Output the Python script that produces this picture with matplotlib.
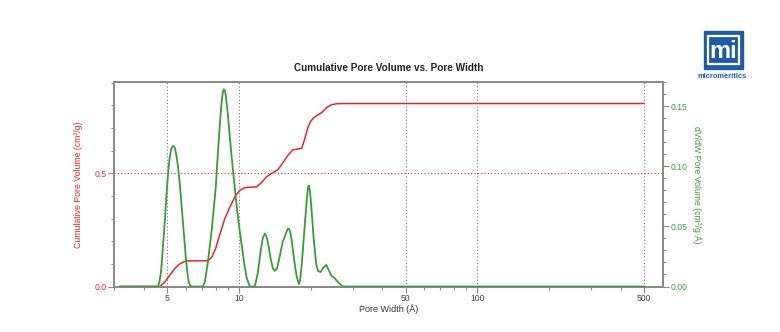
import numpy as np
import matplotlib.pyplot as plt
from matplotlib.patches import Rectangle
from matplotlib.ticker import FixedLocator, NullFormatter, MultipleLocator, FormatStrFormatter

plt.rcParams['font.family'] = ['Liberation Sans', 'DejaVu Sans']

# cumulative pore volume (cm3/g) vs pore width (A)
cum_width = [3.18, 4.67, 4.90, 5.14, 5.40, 5.66, 6.00, 7.42, 7.71, 8.01, 8.33, 8.74,
             9.17, 9.62, 10.0, 10.49, 10.91, 11.89, 12.48, 13.10, 13.74, 14.56, 15.28,
             16.03, 16.82, 17.66, 18.35, 18.89, 19.45, 20.01, 20.60, 21.41, 22.25,
             23.34, 24.49, 25.70, 27.24, 500.0]
cum_vol = [0.0, 0.0, 0.02, 0.05, 0.08, 0.10, 0.113, 0.114, 0.13, 0.17, 0.23, 0.30,
           0.35, 0.395, 0.42, 0.435, 0.438, 0.44, 0.46, 0.485, 0.50, 0.515, 0.545,
           0.578, 0.603, 0.607, 0.61, 0.65, 0.70, 0.73, 0.745, 0.757, 0.768,
           0.79, 0.803, 0.807, 0.808, 0.808]

# dV/dW distribution (cm3/g.A)
dv_width = [3.18, 4.58, 4.65, 4.72, 4.86, 5.00, 5.07, 5.14, 5.22, 5.31, 5.40, 5.50,
            5.58, 5.66, 5.83, 6.00, 6.10, 6.18, 6.30,
            7.07, 7.21, 7.42, 7.71, 8.01, 8.17, 8.33, 8.49, 8.57, 8.66, 8.74, 8.82,
            8.95, 9.08, 9.25, 9.44, 9.71, 10.0, 10.39, 10.60, 10.80, 11.12,
            11.67, 12.01, 12.36, 12.60, 12.85, 13.05, 13.23, 13.61, 13.90, 14.15,
            14.45, 14.70, 15.28, 15.88, 16.05, 16.24, 16.45, 16.67, 17.15, 17.50,
            17.88, 18.10, 18.35, 18.89, 19.35, 19.52, 19.68, 19.85, 20.11, 20.60,
            21.10, 21.47, 22.03, 22.68, 23.27, 23.91, 24.49, 25.21, 26.21, 27.32, 500.0]
dv_val = [0.0, 0.0, 0.004, 0.012, 0.045, 0.082, 0.097, 0.108, 0.115, 0.117, 0.115, 0.107,
          0.097, 0.085, 0.054, 0.024, 0.010, 0.003, 0.0,
          0.0, 0.004, 0.02, 0.048, 0.083, 0.110, 0.135, 0.155, 0.161, 0.164, 0.163, 0.159,
          0.148, 0.134, 0.116, 0.098, 0.074, 0.052, 0.028, 0.016, 0.007, 0.0,
          0.0, 0.011, 0.030, 0.040, 0.044, 0.042, 0.037, 0.023, 0.015, 0.013,
          0.015, 0.021, 0.037, 0.046, 0.048, 0.048, 0.045, 0.038, 0.019, 0.008,
          0.002, 0.006, 0.018, 0.050, 0.076, 0.083, 0.084, 0.080, 0.068, 0.040,
          0.019, 0.013, 0.012, 0.016, 0.018, 0.013, 0.009, 0.007, 0.003, 0.0, 0.0]

major_x = [5, 10, 50, 100, 500]
minor_x = [3, 4, 6, 7, 8, 9, 20, 30, 40, 60, 70, 80, 90, 200, 300, 400]

red = '#e8262a'
green = '#3c9a3a'
spine = '#8a8a8a'

fig = plt.figure(figsize=(7.8, 3.32), dpi=100)
ax = fig.add_axes([0.1462, 0.137, 0.7038, 0.616])
ax2 = ax.twinx()

ax.plot(cum_width, cum_vol, color=red, lw=1.1, zorder=3)
ax2.plot(dv_width, dv_val, color=green, lw=1.3, zorder=3, solid_joinstyle='round')

ax.set_xscale('log')
ax.set_xlim(3, 600)
ax.set_ylim(0, 0.903)
ax2.set_ylim(0, 0.17)

ax.xaxis.set_major_locator(FixedLocator(major_x))
ax.set_xticklabels([str(v) for v in major_x])
ax.xaxis.set_minor_locator(FixedLocator(minor_x))
ax.xaxis.set_minor_formatter(NullFormatter())

ax.yaxis.set_major_locator(MultipleLocator(0.5))
ax.yaxis.set_minor_locator(MultipleLocator(0.1))
ax.yaxis.set_major_formatter(FormatStrFormatter('%.1f'))
ax2.yaxis.set_major_locator(MultipleLocator(0.05))
ax2.yaxis.set_minor_locator(MultipleLocator(0.01))
ax2.yaxis.set_major_formatter(FormatStrFormatter('%.2f'))

for v in major_x:
    ax.axvline(v, color='#777777', lw=0.8, ls=(0, (1, 2)), zorder=1)
ax.axhline(0.5, color=red, lw=0.8, ls=(0, (1, 2)), zorder=1)

for a in (ax, ax2):
    for s in a.spines.values():
        s.set_color(spine)
        s.set_linewidth(1.4)
    a.tick_params(which='both', color=spine, width=0.8)
    a.tick_params(which='major', length=4, labelsize=6.2, pad=1.5)
    a.tick_params(which='minor', length=2.5)

ax.tick_params(axis='x', labelcolor='#444444')
ax.tick_params(axis='y', labelcolor=red)
ax2.tick_params(axis='y', labelcolor=green)

ax.set_xlabel('Pore Width (Å)', fontsize=6.5, color='#333333', labelpad=1)
ax.set_ylabel('Cumulative Pore Volume (cm³/g)', fontsize=6.3, color=red, labelpad=8)
ax2.set_ylabel('dV/dW Pore Volume (cm³/g·Å)', fontsize=6.3, color=green,
               rotation=270, labelpad=10)
ax.set_title('Cumulative Pore Volume vs. Pore Width', fontsize=7.2,
             fontweight='bold', color='#222222', pad=8)

# logo in the top right corner
blue = '#1f5aa6'
fig.patches.append(Rectangle((704 / 780, 1 - 69 / 332), 39 / 780, 38 / 332,
                             transform=fig.transFigure, color=blue))
fig.patches.append(Rectangle((708 / 780, 1 - 64 / 332), 31 / 780, 28 / 332,
                             transform=fig.transFigure, fill=False,
                             edgecolor='white', lw=1.6))
fig.text(723.5 / 780, 1 - 51 / 332, 'mi', color='white', fontsize=17,
         fontweight='bold', ha='center', va='center')
fig.text(722 / 780, 1 - 77 / 332, 'micromeritics', color=blue, fontsize=5.4,
         fontweight='bold', ha='center', va='center')

fig.savefig('out.png', dpi=100)
